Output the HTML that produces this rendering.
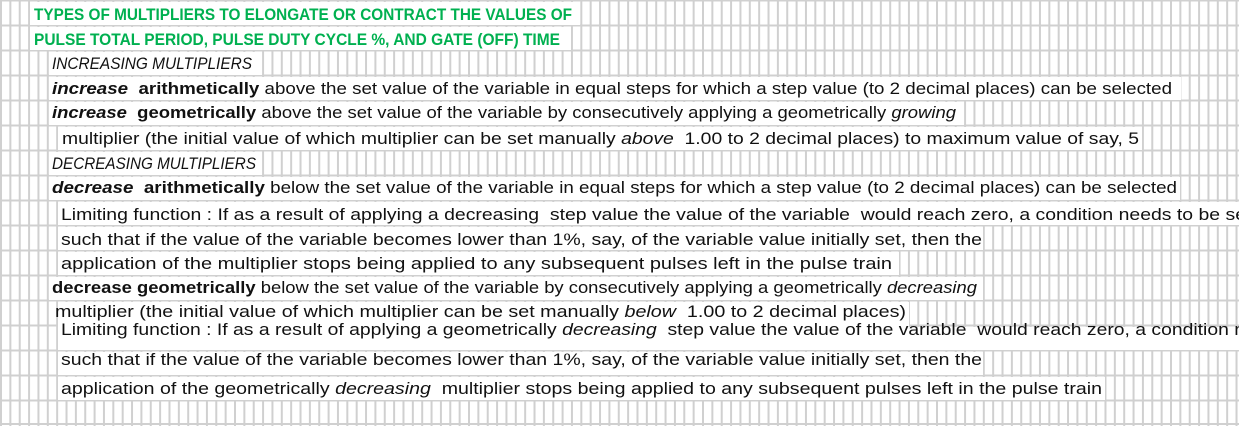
<!DOCTYPE html>
<html><head><meta charset="utf-8">
<style>
html,body{margin:0;padding:0;background:#fff;}
body{width:1239px;height:426px;position:relative;overflow:hidden;font-family:"Liberation Sans",Arial,sans-serif;}
svg{position:absolute;left:0;top:0;}
.w{position:absolute;background:#fff;}
.t{position:absolute;height:20px;line-height:20px;font-size:17px;color:#111;white-space:pre;width:1300px;}
.t span{position:absolute;left:0;top:0;display:block;transform-origin:0 0;}
.g{color:#00b050;font-weight:bold;}
</style></head><body>
<svg width="1239" height="426" id="grid"></svg>
<script>
(function(){
var s='';
for(var c=0;c<=133;c++){var x=1+9.36*c;s+='<line x1="'+x+'" y1="0" x2="'+x+'" y2="426" stroke="#d0d0d0" stroke-width="2"/>';}
for(var k=0;k<=17;k++){var y=25*k+0.5;if(k==17)y=424;s+='<line x1="0" y1="'+y+'" x2="1239" y2="'+y+'" stroke="#d0d0d0" stroke-width="2"/>';}
document.getElementById('grid').innerHTML=s;
})();
</script>
<div class="w" style="left:30px;top:1.5px;width:550px;height:23px"></div>
<div class="w" style="left:30px;top:26.5px;width:541px;height:23px"></div>
<div class="w" style="left:48.7px;top:51.5px;width:213.5px;height:23px"></div>
<div class="w" style="left:48.7px;top:76.5px;width:1132px;height:23px"></div>
<div class="w" style="left:48.7px;top:101.5px;width:915.5px;height:23px"></div>
<div class="w" style="left:58px;top:126.5px;width:1084px;height:23px"></div>
<div class="w" style="left:48.7px;top:151.5px;width:213.5px;height:23px"></div>
<div class="w" style="left:48.7px;top:176.5px;width:1131px;height:23px"></div>
<div class="w" style="left:58px;top:201.5px;width:1181px;height:23px"></div>
<div class="w" style="left:58px;top:226.5px;width:925px;height:23px"></div>
<div class="w" style="left:58px;top:251.5px;width:841px;height:23px"></div>
<div class="w" style="left:48.7px;top:276.5px;width:934.5px;height:23px"></div>
<div class="w" style="left:58px;top:301.5px;width:850.5px;height:48px"></div>
<div class="w" style="left:58px;top:326.5px;width:1181px;height:23px"></div>
<div class="w" style="left:58px;top:351.5px;width:925px;height:23px"></div>
<div class="w" style="left:58px;top:376.5px;width:1047px;height:23px"></div>

<div class="t g" style="left:34px;top:5px" title="572"><span>TYPES OF MULTIPLIERS TO ELONGATE OR CONTRACT THE VALUES OF</span></div>
<div class="t g" style="left:34px;top:30px" title="560"><span>PULSE TOTAL PERIOD, PULSE DUTY CYCLE %, AND GATE (OFF) TIME</span></div>
<div class="t" style="left:52px;top:54px" title="252"><span><i>INCREASING MULTIPLIERS</i></span></div>
<div class="t" style="left:52px;top:79px" title="1172"><span><b><i>increase</i>  arithmetically</b> above the set value of the variable in equal steps for which a step value (to 2 decimal places) can be selected</span></div>
<div class="t" style="left:52px;top:103px" title="956"><span><b><i>increase</i>  geometrically</b> above the set value of the variable by consecutively applying a geometrically <i>growing</i></span></div>
<div class="t" style="left:62px;top:129px" title="1139"><span>multiplier (the initial value of which multiplier can be set manually <i>above</i>  1.00 to 2 decimal places) to maximum value of say, 5</span></div>
<div class="t" style="left:52px;top:154px" title="256"><span><i>DECREASING MULTIPLIERS</i></span></div>
<div class="t" style="left:52px;top:178px" title="1177"><span><b><i>decrease</i>  arithmetically</b> below the set value of the variable in equal steps for which a step value (to 2 decimal places) can be selected</span></div>
<div class="t" style="left:61px;top:205px" title="1246"><span>Limiting function : If as a result of applying a decreasing  step value the value of the variable  would reach zero, a condition needs to be se</span></div>
<div class="t" style="left:61px;top:230px" title="982"><span>such that if the value of the variable becomes lower than 1%, say, of the variable value initially set, then the</span></div>
<div class="t" style="left:61px;top:254px" title="892"><span>application of the multiplier stops being applied to any subsequent pulses left in the pulse train</span></div>
<div class="t" style="left:52px;top:278px" title="977"><span><b>decrease geometrically</b> below the set value of the variable by consecutively applying a geometrically <i>decreasing</i></span></div>
<div class="t" style="left:55px;top:302px" title="906"><span>multiplier (the initial value of which multiplier can be set manually <i>below</i>  1.00 to 2 decimal places)</span></div>
<div class="t" style="left:61px;top:320px" title="1245"><span>Limiting function : If as a result of applying a geometrically <i>decreasing</i>  step value the value of the variable  would reach zero, a condition n</span></div>
<div class="t" style="left:61px;top:350px" title="982"><span>such that if the value of the variable becomes lower than 1%, say, of the variable value initially set, then the</span></div>
<div class="t" style="left:61px;top:379px" title="1102"><span>application of the geometrically <i>decreasing</i>  multiplier stops being applied to any subsequent pulses left in the pulse train</span></div>
<script>
(function(){
var ts=document.querySelectorAll('.t');
for(var i=0;i<ts.length;i++){
 var d=ts[i],sp=d.firstElementChild;
 var L=parseFloat(d.style.left);
 var target=parseFloat(d.getAttribute('title'))-L;
 d.removeAttribute('title');
 var w=sp.getBoundingClientRect().width;
 if(w>0){
  var s=target/w;
  sp.style.transform='scaleX('+s+')';
 }
}
})();
</script>
</body></html>
